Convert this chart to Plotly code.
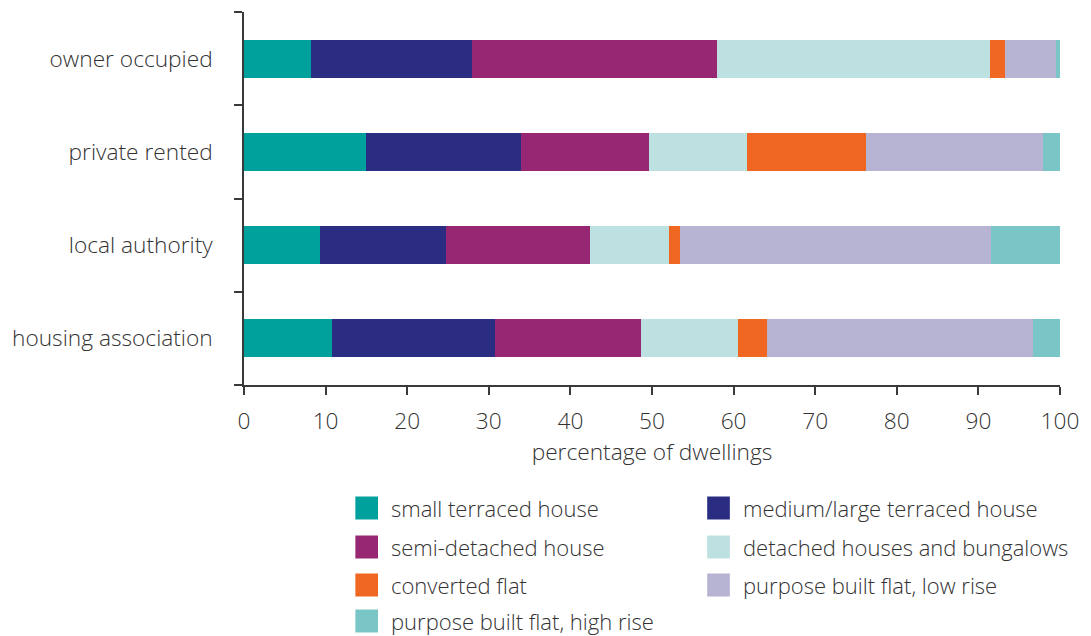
import plotly.graph_objects as go

categories = ["owner occupied", "private rented", "local authority", "housing association"]
series_names = [
    "small terraced house",
    "medium/large terraced house",
    "semi-detached house",
    "detached houses and bungalows",
    "converted flat",
    "purpose built flat, low rise",
    "purpose built flat, high rise",
]
small_terraced = [8.2, 15.0, 9.3, 10.8]
medium_large_terraced = [19.7, 19.0, 15.5, 20.0]
semi_detached = [30.1, 15.6, 17.6, 17.8]
detached = [33.4, 12.1, 9.7, 11.9]
converted_flat = [1.9, 14.5, 1.3, 3.6]
low_rise_flat = [6.2, 21.7, 38.1, 32.6]
high_rise_flat = [0.5, 2.1, 8.5, 3.3]
x_ticks = [0, 10, 20, 30, 40, 50, 60, 70, 80, 90, 100]

series_values = [small_terraced, medium_large_terraced, semi_detached, detached,
                 converted_flat, low_rise_flat, high_rise_flat]
colors = ["#00A19C", "#2A2D82", "#982773", "#BDE0E1", "#F06722", "#B7B3D3", "#7AC6C6"]

FONT = "Open Sans"
WEIGHT = 300
TXT = "#333333"
AX = "#3a3a3a"
TICK_SIZE = 22.7
LEG_SIZE = 22.0

fig = go.Figure()
for name, vals, col in zip(series_names, series_values, colors):
    fig.add_trace(go.Bar(
        y=categories, x=vals, name=name, orientation="h",
        marker=dict(color=col, line=dict(width=0)),
        showlegend=False,
    ))

W, H = 1091, 636
L, T = 241, 12
R = W - 1069
B = H - 385
pw, ph = W - L - R, H - T - B

def px_to_paper_x(px):
    return (px - L) / pw

def px_to_paper_y(py):
    return (H - B - py) / ph

# manual legend (two columns, row-wise), page pixel positions
col_x = [354, 711]
row_y = [508, 547, 585, 621]
sq = 23
shapes = []
annotations = []
for i, (name, col) in enumerate(zip(series_names, colors)):
    r, c = divmod(i, 2)
    x0 = col_x[c]
    yc = row_y[r]
    shapes.append(dict(
        type="rect", xref="paper", yref="paper",
        x0=px_to_paper_x(x0), x1=px_to_paper_x(x0 + sq),
        y0=px_to_paper_y(yc + sq / 2), y1=px_to_paper_y(yc - sq / 2),
        fillcolor=col, line=dict(width=0),
    ))
    annotations.append(dict(
        text=name, xref="paper", yref="paper",
        x=px_to_paper_x(x0 + 35), y=px_to_paper_y(yc),
        xanchor="left", yanchor="middle", showarrow=False, borderpad=0,
        font=dict(family=FONT, size=LEG_SIZE, color=TXT, weight=WEIGHT),
    ))

fig.update_layout(
    barmode="stack",
    bargap=0.59,
    width=W, height=H,
    margin=dict(l=L, r=R, t=T, b=B, pad=0),
    paper_bgcolor="white", plot_bgcolor="white",
    font=dict(family=FONT, size=TICK_SIZE, color=TXT, weight=WEIGHT),
    shapes=shapes,
    annotations=annotations,
    xaxis=dict(
        range=[0, 100], tickvals=x_ticks, ticktext=[str(v) for v in x_ticks],
        showgrid=False, zeroline=False,
        showline=True, linecolor=AX, linewidth=1.5,
        ticks="outside", ticklen=8, tickwidth=1.5, tickcolor=AX,
        ticklabelstandoff=7,
        tickfont=dict(family=FONT, size=TICK_SIZE, color=TXT, weight=WEIGHT),
        title=dict(text="percentage of dwellings", standoff=9,
                   font=dict(family=FONT, size=TICK_SIZE, color=TXT, weight=WEIGHT)),
    ),
    yaxis=dict(
        categoryorder="array", categoryarray=categories[::-1],
        showgrid=False, zeroline=False,
        showline=True, linecolor=AX, linewidth=1.5,
        ticks="outside", ticklen=8, tickwidth=1.5, tickcolor=AX,
        tickson="boundaries",
        ticklabelstandoff=25,
        tickfont=dict(family=FONT, size=TICK_SIZE, color=TXT, weight=WEIGHT),
    ),
)

fig.write_html("out.html",
               config={"displayModeBar": False},
               post_script="document.body.style.margin='0';document.body.style.overflow='hidden';")
